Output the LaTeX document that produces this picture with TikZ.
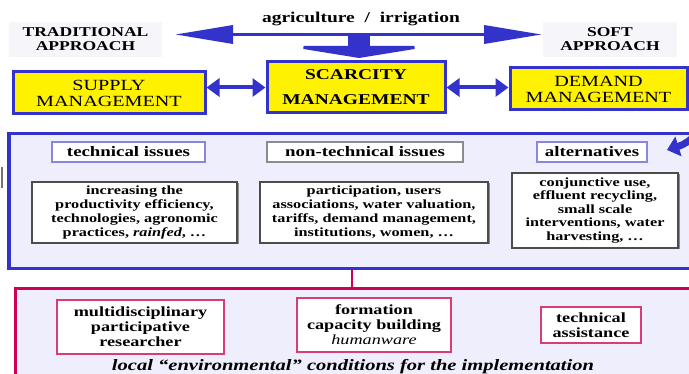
\documentclass[tikz,border=0pt]{standalone}
\usepackage{fontspec}
\setmainfont{Liberation Serif}[FakeStretch=1.3]
\usepackage{tikz}
\usetikzlibrary{arrows.meta, positioning, calc, shadows}
\definecolor{arrowblue}{RGB}{51,51,204}
\definecolor{panelfill}{RGB}{238,238,252}
\definecolor{crimson}{RGB}{204,0,85}
\definecolor{pinkline}{RGB}{218,60,120}
\definecolor{hdrline}{RGB}{135,135,220}
\definecolor{paleback}{RGB}{245,245,250}
\tikzset{
	mgmt/.style={
		draw=arrowblue,
		fill=yellow,
		line width=3pt,
		align=center,
		inner sep=0pt,
		minimum height=42pt
	},
	approach/.style={
		fill=paleback,
		align=center,
		inner sep=0pt,
		minimum height=35pt,
		font=\bfseries\fontsize{13.5}{14}\selectfont
	},
	header/.style={
		draw,
		fill=white,
		line width=1.2pt,
		inner sep=0pt,
		minimum height=20pt,
		font=\bfseries\fontsize{14.5}{15}\selectfont
	},
	issue/.style={
		draw=black!70,
		fill=white,
		line width=1.2pt,
		align=center,
		inner sep=0pt,
		drop shadow={shadow xshift=1.5pt, shadow yshift=-1.5pt, fill=black!45, opacity=1},
		font=\bfseries\fontsize{12.5}{14}\selectfont
	},
	support/.style={
		draw=pinkline,
		fill=white,
		line width=2pt,
		align=center,
		inner sep=0pt,
		font=\bfseries\fontsize{14}{15}\selectfont
	},
	link/.style={
		arrowblue,
		line width=4pt,
		{Triangle[length=13pt,width=18pt]}-{Triangle[length=13pt,width=18pt]}
	}
}

\begin{document}
\begin{tikzpicture}[x=1pt, y=-1pt]
	\useasboundingbox (0,0) rectangle (689,374);
	\clip (0,0) rectangle (689,374);
	
	% approaches
	\node[approach, minimum width=153pt] (tradbox) at (85.5,39.5) {TRADITIONAL\\APPROACH};
	\node[approach, minimum width=134pt] (softbox) at (610,39.5) {SOFT\\APPROACH};
	\node[font=\bfseries\fontsize{15}{16}\selectfont] (agri) at (361,19) {agriculture~~/~~irrigation};
	
	% management boxes
	\node[mgmt, minimum width=192pt, font=\fontsize{15.5}{16}\selectfont] (supply) at (109,93) {SUPPLY\\MANAGEMENT};
	\node[mgmt, minimum width=178pt, minimum height=51pt, font=\bfseries\fontsize{15}{25}\selectfont] (scarcity) at (356,87.5) {SCARCITY\\MANAGEMENT};
	\node[mgmt, minimum width=177pt, font=\fontsize{15.5}{16}\selectfont] (demand) at (598.5,89) {DEMAND\\MANAGEMENT};
	
	% big arrow
	\coordinate (agl) at (175,34.5);
	\coordinate (agr) at (542,34.5);
	\coordinate (agm) at (359,34.5);
	\draw[arrowblue, line width=3.5pt, {Triangle[length=58pt,width=18pt]}-{Triangle[length=58pt,width=18pt]}] (agl) -- (agr);
	\draw[arrowblue, line width=22pt, -{Triangle[length=12pt,width=148pt]}, shorten >=2.5pt] (agm) -- (agm |- scarcity.north);
	
	\begin{scope}
	\draw[link] (supply.east |- scarcity) -- (scarcity.west);
	\draw[link] (scarcity.east) -- (demand.west |- scarcity);
	\end{scope}
	
	% issues panel
	\node[draw=arrowblue, fill=panelfill, line width=3.5pt, minimum width=700pt, minimum height=135pt, anchor=north west, inner sep=0pt] (issues) at (7,132) {};
	\draw[arrowblue, line width=7pt, -{Triangle[length=12pt,width=20pt]}] (demand.east) .. controls (725,92) and (705,138) .. (667,150);
	\draw[black!55, line width=1.2pt] (2,167) -- (2,188);
	
	\node[header, draw=hdrline, minimum width=153pt] (tech) at (128.5,152) {technical issues};
	\node[header, draw=black!45, minimum width=196pt] (nontech) at (365,152) {non-technical issues};
	\node[header, draw=hdrline, minimum width=110pt] (alt) at (592,152) {alternatives};
	
	\node[issue, minimum width=205pt, minimum height=61pt] (techdsc) at (134.5,212.5) {increasing the\\productivity efficiency,\\technologies, agronomic\\practices, \textit{rainfed}, \ldots};
	\node[issue, minimum width=228pt, minimum height=61pt] (nontechdsc) at (374,212.5) {participation, users\\associations, water valuation,\\tariffs, demand management,\\institutions, women, \ldots};
	\node[issue, minimum width=166pt, minimum height=75pt, font=\bfseries\fontsize{12.5}{13.5}\selectfont] (altdsc) at (595,210.5) {conjunctive use,\\effluent recycling,\\small scale\\interventions, water\\harvesting, \ldots};
	
	% implementation panel
	\node[draw=crimson, fill=panelfill, line width=3pt, minimum width=700pt, minimum height=110pt, anchor=north west, inner sep=0pt] (impl) at (14,287) {};
	\coordinate (drop) at (352,0);
	\draw[crimson, line width=2.5pt] (issues.south -| drop) -- (impl.north -| drop);
	
	\node[support, minimum width=167pt, minimum height=54pt] (research) at (140.5,327) {multidisciplinary\\participative\\researcher};
	\node[support, minimum width=154pt, minimum height=54pt] (capacity) at (374,325) {formation\\capacity building\\{\mdseries\itshape humanware}};
	\node[support, minimum width=100pt, minimum height=36pt] (assist) at (591,325) {technical\\assistance};
	\node[font=\bfseries\itshape\fontsize{15.8}{16}\selectfont] (impldsc) at (353,367) {local “environmental” conditions for the implementation};
\end{tikzpicture}
\end{document}
